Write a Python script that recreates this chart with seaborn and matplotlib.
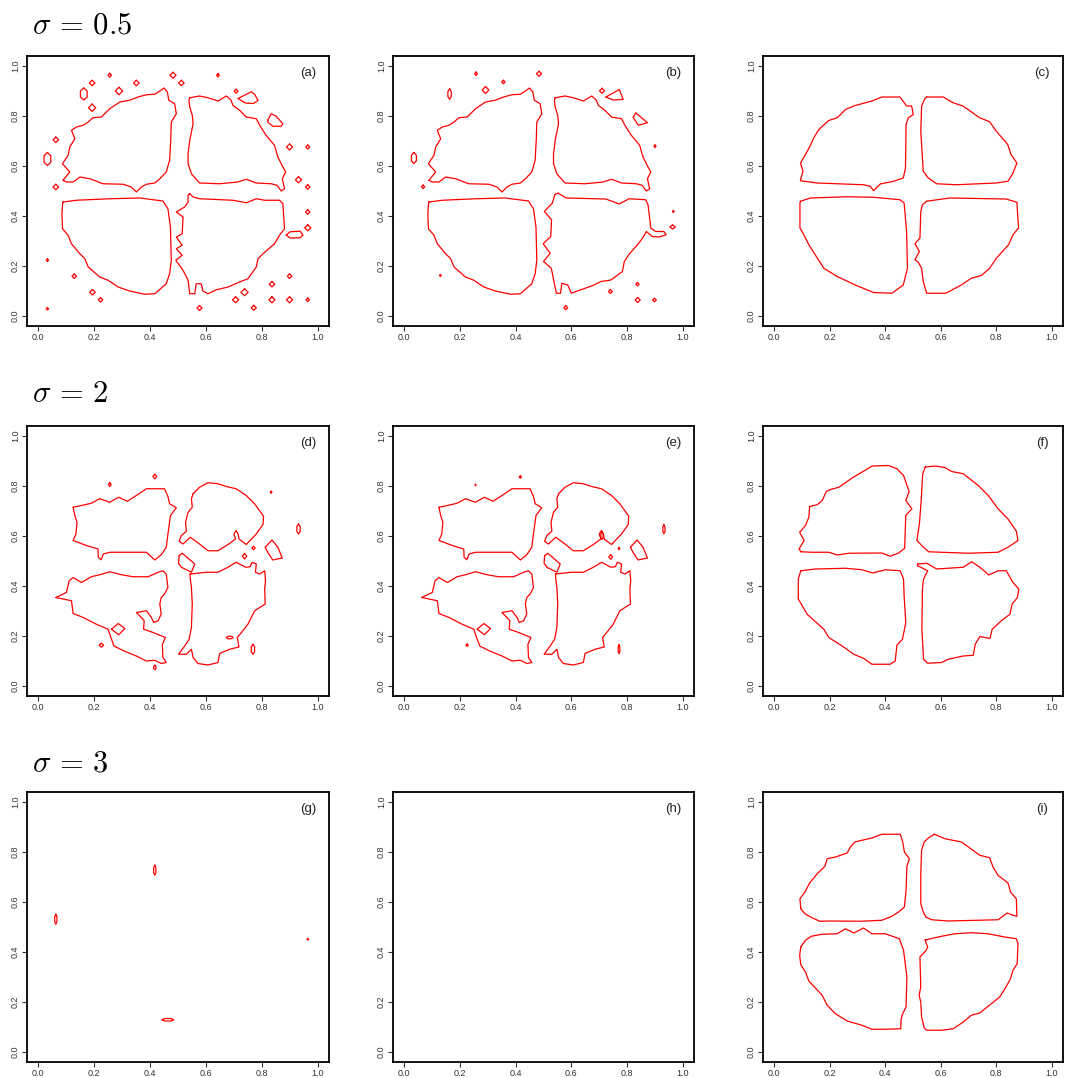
import matplotlib
matplotlib.use("Agg")
import matplotlib.pyplot as plt
import numpy as np
import pandas as pd
import seaborn as sns

# ---------------------------------------------------------------------------
# Contour rings of the segmentation for each panel, as (x, y) vertices.
# ---------------------------------------------------------------------------
A_UL = [(0.089,0.543),(0.113,0.576),(0.087,0.609),(0.107,0.643),(0.113,0.676),(0.131,0.709),
        (0.119,0.743),(0.137,0.756),(0.161,0.763),(0.179,0.776),(0.196,0.793),(0.226,0.796),
        (0.256,0.829),(0.292,0.856),(0.327,0.863),(0.357,0.876),(0.387,0.885),(0.417,0.887),
        (0.435,0.900),(0.450,0.912),(0.462,0.896),(0.467,0.863),(0.488,0.849),(0.494,0.809),
        (0.476,0.776),(0.474,0.703),(0.470,0.623),(0.458,0.576),(0.435,0.549),(0.417,0.532),
        (0.387,0.527),(0.369,0.516),(0.351,0.496),(0.333,0.516),(0.304,0.527),(0.232,0.529),
        (0.185,0.549),(0.149,0.556),(0.125,0.536),(0.101,0.536)]
A_UR = [(0.542,0.873),(0.577,0.880),(0.607,0.873),(0.643,0.860),(0.673,0.880),(0.690,0.863),
        (0.696,0.843),(0.720,0.823),(0.744,0.796),(0.780,0.789),(0.792,0.763),(0.815,0.723),
        (0.845,0.683),(0.857,0.636),(0.875,0.596),(0.885,0.576),(0.873,0.549),(0.881,0.509),
        (0.869,0.500),(0.854,0.523),(0.833,0.529),(0.780,0.532),(0.744,0.547),(0.714,0.536),
        (0.649,0.529),(0.577,0.532),(0.548,0.569),(0.536,0.609),(0.536,0.649),(0.542,0.703),
        (0.548,0.736),(0.554,0.769),(0.551,0.803),(0.542,0.836),(0.539,0.863)]
A_LL = [(0.089,0.456),(0.137,0.463),(0.256,0.469),(0.363,0.472),(0.446,0.460),(0.464,0.429),
        (0.473,0.356),(0.476,0.223),(0.470,0.169),(0.458,0.129),(0.417,0.089),(0.381,0.087),
        (0.327,0.100),(0.286,0.116),(0.250,0.143),(0.220,0.156),(0.179,0.196),(0.167,0.229),
        (0.149,0.249),(0.119,0.289),(0.107,0.323),(0.087,0.349),(0.085,0.409),(0.087,0.445)]
A_LR = [(0.542,0.489),(0.554,0.476),(0.577,0.469),(0.696,0.463),(0.744,0.453),(0.780,0.469),
        (0.810,0.463),(0.863,0.463),(0.875,0.449),(0.881,0.349),(0.863,0.323),(0.845,0.289),
        (0.804,0.249),(0.786,0.229),(0.780,0.196),(0.750,0.149),(0.720,0.136),(0.679,0.116),
        (0.637,0.105),(0.607,0.089),(0.589,0.100),(0.583,0.129),(0.565,0.129),(0.560,0.089),
        (0.542,0.089),(0.536,0.143),(0.518,0.183),(0.492,0.223),(0.515,0.243),(0.494,0.269),
        (0.515,0.283),(0.494,0.316),(0.515,0.329),(0.518,0.396),(0.494,0.416),(0.524,0.436),
        (0.536,0.456),(0.536,0.483)]
A_RINGS = [
    [(0.715,0.870),(0.762,0.897),(0.775,0.885),(0.786,0.862),(0.770,0.850),(0.740,0.852)],
    [(0.821,0.783),(0.833,0.809),(0.851,0.799),(0.875,0.769),(0.869,0.759),(0.839,0.759),(0.821,0.776)],
    [(0.887,0.324),(0.901,0.337),(0.937,0.339),(0.947,0.324),(0.937,0.313),(0.901,0.312)],
]
# isolated specks: centre x, centre y, half width, half height
A_SPECKS = [(0.256,0.963,0.006,0.008),(0.193,0.932,0.010,0.011),(0.351,0.932,0.010,0.011),
            (0.482,0.963,0.011,0.012),(0.512,0.932,0.010,0.011),(0.643,0.963,0.005,0.007),
            (0.708,0.899,0.007,0.008),(0.289,0.900,0.013,0.015),(0.163,0.888,0.012,0.024),
            (0.193,0.833,0.013,0.015),(0.063,0.705,0.010,0.011),(0.033,0.628,0.012,0.026),
            (0.063,0.516,0.010,0.011),(0.899,0.676,0.011,0.012),(0.964,0.676,0.007,0.008),
            (0.931,0.545,0.011,0.012),(0.964,0.516,0.008,0.009),(0.964,0.416,0.008,0.009),
            (0.964,0.353,0.011,0.012),(0.033,0.223,0.004,0.005),(0.129,0.159,0.008,0.009),
            (0.194,0.095,0.010,0.011),(0.223,0.065,0.008,0.009),(0.033,0.029,0.004,0.005),
            (0.577,0.032,0.009,0.010),(0.706,0.065,0.011,0.012),(0.738,0.095,0.013,0.014),
            (0.771,0.033,0.009,0.010),(0.836,0.127,0.010,0.011),(0.836,0.065,0.011,0.012),
            (0.899,0.159,0.008,0.009),(0.899,0.065,0.011,0.012),(0.964,0.065,0.006,0.007)]

B_LR = [(0.540,0.485),(0.552,0.492),(0.581,0.472),(0.724,0.468),(0.772,0.448),(0.807,0.469),
        (0.867,0.465),(0.875,0.445),(0.885,0.352),(0.902,0.338),(0.932,0.338),(0.940,0.325),
        (0.914,0.316),(0.890,0.318),(0.869,0.338),(0.855,0.311),(0.837,0.285),(0.807,0.247),
        (0.790,0.218),(0.783,0.178),(0.742,0.144),(0.706,0.138),(0.677,0.122),(0.617,0.098),
        (0.600,0.091),(0.587,0.124),(0.566,0.131),(0.561,0.091),(0.546,0.091),(0.528,0.191),
        (0.500,0.218),(0.524,0.251),(0.499,0.289),(0.526,0.318),(0.529,0.385),(0.503,0.418),
        (0.532,0.452),(0.539,0.479)]
B_RINGS = [
    [(0.724,0.876),(0.772,0.906),(0.786,0.866),(0.750,0.864)],
    [(0.822,0.794),(0.831,0.813),(0.873,0.773),(0.840,0.763)],
]
B_SPECKS = [(0.258,0.969,0.005,0.007),(0.484,0.969,0.009,0.010),(0.356,0.936,0.006,0.007),
            (0.292,0.904,0.012,0.014),(0.163,0.888,0.006,0.021),(0.710,0.901,0.009,0.010),
            (0.900,0.679,0.004,0.005),(0.035,0.632,0.009,0.022),(0.068,0.517,0.006,0.007),
            (0.966,0.418,0.003,0.004),(0.963,0.356,0.010,0.008),(0.130,0.162,0.003,0.004),
            (0.837,0.127,0.006,0.007),(0.740,0.098,0.007,0.008),(0.838,0.064,0.009,0.010),
            (0.898,0.064,0.007,0.007),(0.580,0.033,0.007,0.008)]

C_UL = [(0.095,0.545),(0.104,0.579),(0.095,0.612),(0.113,0.646),(0.129,0.679),(0.143,0.713),
        (0.161,0.746),(0.197,0.782),(0.227,0.793),(0.257,0.826),(0.292,0.842),(0.352,0.860),
        (0.388,0.876),(0.453,0.876),(0.477,0.840),(0.495,0.840),(0.501,0.806),(0.483,0.793),
        (0.475,0.766),(0.473,0.592),(0.465,0.552),(0.430,0.539),(0.382,0.528),(0.358,0.501),
        (0.346,0.519),(0.322,0.525),(0.155,0.532),(0.095,0.541)]
C_UR = [(0.549,0.876),(0.609,0.876),(0.644,0.853),(0.680,0.840),(0.740,0.793),(0.776,0.777),
        (0.800,0.739),(0.841,0.686),(0.853,0.646),(0.874,0.612),(0.860,0.572),(0.842,0.539),
        (0.800,0.532),(0.656,0.525),(0.585,0.529),(0.555,0.552),(0.537,0.579),(0.528,0.739),
        (0.531,0.840),(0.543,0.870)]
C_LL = [(0.095,0.459),(0.131,0.472),(0.263,0.477),(0.358,0.475),(0.453,0.465),(0.468,0.452),
        (0.477,0.338),(0.480,0.191),(0.465,0.124),(0.424,0.091),(0.358,0.094),(0.292,0.124),
        (0.227,0.158),(0.179,0.191),(0.125,0.285),(0.107,0.325),(0.093,0.352),(0.093,0.452)]
C_LR = [(0.549,0.459),(0.632,0.472),(0.835,0.468),(0.874,0.455),(0.880,0.352),(0.860,0.325),
        (0.844,0.285),(0.800,0.231),(0.776,0.191),(0.746,0.162),(0.710,0.151),(0.674,0.124),
        (0.618,0.091),(0.549,0.091),(0.537,0.138),(0.531,0.191),(0.519,0.215),(0.507,0.225),
        (0.523,0.258),(0.507,0.289),(0.525,0.312),(0.528,0.418),(0.534,0.445)]

D_UL = [(0.125,0.715),(0.155,0.722),(0.190,0.731),(0.220,0.749),(0.256,0.735),(0.288,0.755),
        (0.319,0.739),(0.351,0.762),(0.387,0.789),(0.452,0.789),(0.464,0.758),(0.470,0.729),
        (0.494,0.713),(0.473,0.682),(0.464,0.608),(0.458,0.555),(0.440,0.525),(0.417,0.504),
        (0.387,0.535),(0.256,0.535),(0.233,0.528),(0.225,0.505),(0.215,0.515),(0.214,0.548),
        (0.175,0.561),(0.125,0.582),(0.135,0.608),(0.139,0.655),(0.131,0.682)]
D_UR = [(0.554,0.769),(0.577,0.795),(0.607,0.813),(0.643,0.809),(0.673,0.798),(0.708,0.789),
        (0.744,0.762),(0.774,0.729),(0.806,0.679),(0.804,0.646),(0.780,0.608),(0.744,0.566),
        (0.718,0.588),(0.715,0.608),(0.708,0.622),(0.700,0.608),(0.706,0.588),(0.679,0.566),
        (0.643,0.541),(0.607,0.541),(0.577,0.568),(0.544,0.595),(0.518,0.568),(0.504,0.579),
        (0.512,0.602),(0.530,0.619),(0.527,0.655),(0.536,0.695),(0.551,0.715),(0.548,0.749)]
D_LL = [(0.063,0.354),(0.101,0.374),(0.111,0.421),(0.125,0.434),(0.155,0.414),(0.190,0.437),
        (0.220,0.445),(0.256,0.457),(0.298,0.445),(0.339,0.437),(0.393,0.437),(0.429,0.455),
        (0.446,0.461),(0.458,0.448),(0.464,0.394),(0.452,0.368),(0.440,0.354),(0.435,0.328),
        (0.440,0.288),(0.429,0.261),(0.413,0.254),(0.405,0.274),(0.387,0.301),(0.351,0.294),
        (0.369,0.274),(0.379,0.261),(0.377,0.227),(0.411,0.214),(0.455,0.194),(0.444,0.167),
        (0.446,0.114),(0.458,0.094),(0.440,0.090),(0.417,0.103),(0.387,0.100),(0.351,0.120),
        (0.307,0.140),(0.271,0.160),(0.260,0.194),(0.250,0.227),(0.208,0.247),(0.161,0.274),
        (0.125,0.290),(0.119,0.341)]
D_LR = [(0.543,0.448),(0.601,0.455),(0.643,0.455),(0.679,0.475),(0.708,0.495),(0.742,0.475),
        (0.758,0.477),(0.765,0.495),(0.780,0.488),(0.777,0.455),(0.792,0.448),(0.810,0.461),
        (0.813,0.421),(0.810,0.388),(0.812,0.328),(0.774,0.301),(0.750,0.247),(0.732,0.221),
        (0.712,0.194),(0.718,0.156),(0.685,0.147),(0.649,0.130),(0.643,0.094),(0.607,0.084),
        (0.571,0.090),(0.554,0.114),(0.548,0.147),(0.530,0.127),(0.502,0.127),(0.524,0.160),
        (0.540,0.187),(0.548,0.234),(0.551,0.328),(0.548,0.394),(0.544,0.428)]
D_RINGS = [
    [(0.504,0.521),(0.515,0.531),(0.560,0.488),(0.548,0.455),(0.512,0.475),(0.502,0.491)],
    [(0.812,0.555),(0.836,0.584),(0.857,0.555),(0.873,0.512),(0.839,0.504),(0.821,0.535)],
    [(0.262,0.227),(0.286,0.250),(0.310,0.230),(0.288,0.205)],
]
D_SPECKS = [(0.256,0.806,0.005,0.008),(0.417,0.838,0.007,0.009),(0.833,0.775,0.003,0.004),
            (0.931,0.628,0.006,0.020),(0.770,0.552,0.006,0.007),(0.738,0.519,0.008,0.011),
            (0.226,0.163,0.008,0.008),(0.417,0.074,0.004,0.009),(0.685,0.194,0.012,0.005),
            (0.768,0.147,0.006,0.020)]
E_SPECKS = [(0.256,0.804,0.002,0.003),(0.417,0.836,0.004,0.005),(0.771,0.549,0.003,0.004),
            (0.932,0.627,0.004,0.018),(0.741,0.516,0.007,0.009),(0.226,0.163,0.004,0.005),
            (0.771,0.147,0.003,0.018),(0.710,0.602,0.004,0.016)]

F_UL = [(0.096,0.537),(0.090,0.548),(0.108,0.582),(0.092,0.615),(0.113,0.642),(0.125,0.675),
        (0.128,0.718),(0.155,0.725),(0.173,0.742),(0.188,0.778),(0.203,0.786),(0.233,0.795),
        (0.281,0.832),(0.317,0.856),(0.353,0.880),(0.412,0.882),(0.442,0.869),(0.466,0.842),
        (0.486,0.778),(0.474,0.742),(0.496,0.709),(0.474,0.682),(0.470,0.551),(0.448,0.532),
        (0.418,0.519),(0.388,0.532),(0.269,0.531),(0.227,0.524),(0.197,0.535),(0.137,0.535)]
F_UR = [(0.544,0.876),(0.579,0.880),(0.615,0.874),(0.639,0.858),(0.681,0.849),(0.735,0.802),
        (0.771,0.762),(0.806,0.709),(0.842,0.668),(0.872,0.619),(0.878,0.582),(0.842,0.555),
        (0.806,0.535),(0.699,0.531),(0.556,0.537),(0.538,0.555),(0.514,0.582),(0.523,0.648),
        (0.529,0.735),(0.535,0.849)]
F_LL = [(0.096,0.461),(0.149,0.468),(0.257,0.471),(0.316,0.465),(0.355,0.452),(0.400,0.465),
        (0.454,0.461),(0.466,0.428),(0.468,0.361),(0.474,0.254),(0.462,0.187),(0.442,0.163),
        (0.436,0.100),(0.418,0.087),(0.352,0.087),(0.323,0.110),(0.287,0.127),(0.245,0.160),
        (0.197,0.194),(0.179,0.227),(0.119,0.287),(0.087,0.348),(0.087,0.428)]
F_LR = [(0.517,0.488),(0.550,0.491),(0.585,0.468),(0.681,0.475),(0.711,0.497),(0.741,0.475),
        (0.773,0.444),(0.806,0.461),(0.836,0.461),(0.860,0.414),(0.881,0.388),(0.876,0.354),
        (0.857,0.328),(0.849,0.287),(0.818,0.261),(0.785,0.227),(0.777,0.190),(0.741,0.198),
        (0.724,0.167),(0.717,0.123),(0.681,0.120),(0.627,0.107),(0.603,0.094),(0.553,0.091),
        (0.538,0.107),(0.532,0.227),(0.534,0.388),(0.538,0.428),(0.553,0.461),(0.526,0.476),
        (0.516,0.481)]

G_SPECKS = [(0.063,0.531,0.004,0.020),(0.417,0.727,0.004,0.020),(0.964,0.451,0.003,0.003),
            (0.464,0.129,0.021,0.005)]

I_UL = [(0.096,0.573),(0.093,0.613),(0.111,0.640),(0.128,0.676),(0.155,0.713),(0.183,0.743),
        (0.191,0.773),(0.221,0.780),(0.263,0.796),(0.275,0.820),(0.290,0.840),(0.316,0.847),
        (0.352,0.856),(0.388,0.871),(0.454,0.871),(0.463,0.840),(0.469,0.800),(0.487,0.773),
        (0.478,0.743),(0.475,0.647),(0.469,0.580),(0.448,0.560),(0.424,0.543),(0.388,0.527),
        (0.316,0.523),(0.197,0.524),(0.164,0.523),(0.131,0.540),(0.111,0.553)]
I_UR = [(0.577,0.871),(0.615,0.853),(0.675,0.840),(0.740,0.787),(0.776,0.777),(0.788,0.740),
        (0.806,0.707),(0.842,0.676),(0.851,0.640),(0.872,0.613),(0.874,0.543),(0.860,0.547),
        (0.839,0.556),(0.806,0.529),(0.734,0.527),(0.627,0.524),(0.567,0.529),(0.546,0.540),
        (0.537,0.560),(0.528,0.593),(0.528,0.713),(0.531,0.807),(0.540,0.840),(0.555,0.856)]
I_LL = [(0.096,0.420),(0.113,0.447),(0.134,0.463),(0.173,0.471),(0.227,0.473),(0.257,0.493),
        (0.287,0.476),(0.322,0.496),(0.352,0.473),(0.400,0.473),(0.451,0.453),(0.466,0.407),
        (0.478,0.300),(0.475,0.180),(0.462,0.151),(0.457,0.129),(0.456,0.093),(0.400,0.091),
        (0.352,0.091),(0.316,0.107),(0.263,0.124),(0.221,0.153),(0.191,0.187),(0.173,0.227),
        (0.125,0.284),(0.113,0.320),(0.096,0.349),(0.092,0.387)]
I_LR = [(0.547,0.449),(0.603,0.463),(0.651,0.473),(0.710,0.477),(0.770,0.473),(0.830,0.460),
        (0.872,0.453),(0.878,0.433),(0.875,0.353),(0.860,0.327),(0.851,0.293),(0.833,0.257),
        (0.812,0.220),(0.782,0.193),(0.740,0.156),(0.710,0.147),(0.681,0.120),(0.645,0.093),
        (0.603,0.087),(0.549,0.087),(0.540,0.097),(0.531,0.140),(0.528,0.200),(0.522,0.227),
        (0.528,0.260),(0.525,0.380),(0.531,0.387),(0.546,0.405),(0.553,0.419),(0.543,0.449)]

PANEL_LETTERS = ["(a)", "(b)", "(c)", "(d)", "(e)", "(f)", "(g)", "(h)", "(i)"]
ROW_SIGMAS = ["0.5", "2", "3"]
TICKS = [0.0, 0.2, 0.4, 0.6, 0.8, 1.0]
TICK_LABELS = ["0.0", "0.2", "0.4", "0.6", "0.8", "1.0"]

PANELS = [
    ([A_UL, A_UR, A_LL, A_LR] + A_RINGS, A_SPECKS),
    ([A_UL, A_UR, A_LL, B_LR] + B_RINGS, B_SPECKS),
    ([C_UL, C_UR, C_LL, C_LR], []),
    ([D_UL, D_UR, D_LL, D_LR] + D_RINGS, D_SPECKS),
    ([D_UL, D_UR, D_LL, D_LR] + D_RINGS, E_SPECKS),
    ([F_UL, F_UR, F_LL, F_LR], []),
    ([], G_SPECKS),
    ([], []),
    ([I_UL, I_UR, I_LL, I_LR], []),
]


def speck_ring(cx, cy, hw, hh):
    """Small closed contour around an isolated blob: diamond or elongated hexagon."""
    if hh > 1.6 * hw:
        return [(cx, cy + hh), (cx + hw, cy + 0.5 * hh), (cx + hw, cy - 0.5 * hh),
                (cx, cy - hh), (cx - hw, cy - 0.5 * hh), (cx - hw, cy + 0.5 * hh)]
    if hw > 1.6 * hh:
        return [(cx - hw, cy), (cx - 0.5 * hw, cy + hh), (cx + 0.5 * hw, cy + hh),
                (cx + hw, cy), (cx + 0.5 * hw, cy - hh), (cx - 0.5 * hw, cy - hh)]
    return [(cx, cy + hh), (cx + hw, cy), (cx, cy - hh), (cx - hw, cy)]


def rings_frame(rings, specks):
    rows = []
    all_rings = list(rings) + [speck_ring(*s) for s in specks]
    for k, ring in enumerate(all_rings):
        closed = list(ring) + [ring[0]]
        for j, (x, y) in enumerate(closed):
            rows.append({"ring": k, "order": j, "x": x, "y": y})
    return pd.DataFrame(rows, columns=["ring", "order", "x", "y"])


sns.set_theme(style="white")
plt.rcParams["font.family"] = ["Liberation Sans", "DejaVu Sans"]
plt.rcParams["mathtext.fontset"] = "cm"

W, H = 1066, 1078
fig = plt.figure(figsize=(W / 100, H / 100), dpi=100)
fig.patch.set_facecolor("white")

col_left = [27, 393, 763]
col_width = [302, 301, 300]
row_top = [56, 426, 792]
row_h = 270
sigma_baseline = [33, 402, 772]

for r in range(3):
    fig.text(32 / W, 1 - sigma_baseline[r] / H, r"$\sigma\,=\,$" + r"$" + ROW_SIGMAS[r] + "$",
             fontsize=22, ha="left", va="baseline", color="black")
    for c in range(3):
        idx = 3 * r + c
        ax = fig.add_axes([col_left[c] / W, 1 - (row_top[r] + row_h) / H,
                           col_width[c] / W, row_h / H])
        rings, specks = PANELS[idx]
        df = rings_frame(rings, specks)
        if len(df):
            sns.lineplot(data=df, x="x", y="y", units="ring", estimator=None, sort=False,
                         color="red", linewidth=0.9, ax=ax, legend=False)
        ax.set_xlim(-0.04, 1.04)
        ax.set_ylim(-0.04, 1.04)
        ax.set_xticks(TICKS)
        ax.set_xticklabels(TICK_LABELS)
        ax.set_yticks(TICKS)
        ax.set_yticklabels(TICK_LABELS, rotation=90, va="center")
        ax.set_xlabel("")
        ax.set_ylabel("")
        ax.tick_params(bottom=True, left=True, direction="out", length=3.5, width=0.8,
                       labelsize=6.5, pad=1.5, colors="#333333")
        for sp in ax.spines.values():
            sp.set_visible(True)
            sp.set_color("black")
            sp.set_linewidth(1.3)
        ax.set_facecolor("white")
        ax.text(0.93, 0.937, PANEL_LETTERS[idx], transform=ax.transAxes,
                ha="center", va="center", fontsize=9.5, color="#222222")

fig.savefig("out.png", dpi=100, facecolor="white")
